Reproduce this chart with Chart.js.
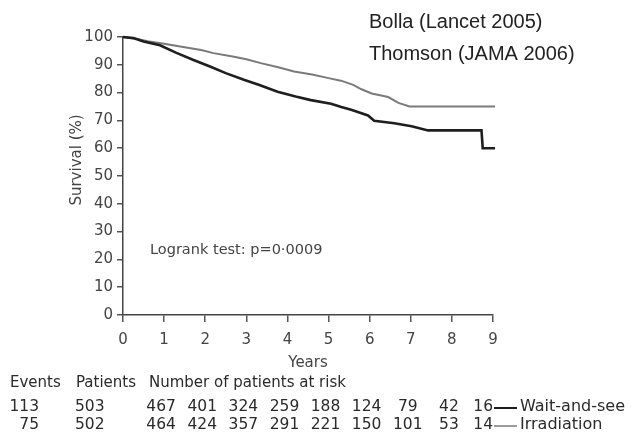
<!DOCTYPE html>
<html>
<head>
<meta charset="utf-8">
<script src="https://cdn.jsdelivr.net/npm/chart.js@4/dist/chart.umd.min.js"></script>
<style>
  html, body { margin: 0; padding: 0; background: #ffffff; }
  #wrap { width: 640px; height: 448px; position: relative; }
</style>
</head>
<body>
<div id="wrap"><canvas id="c" width="640" height="448"></canvas></div>
<script>
// ---- data ----
const waitYears = [0, 0.25, 0.5, 0.9, 1.3, 1.7, 2.13, 2.5, 2.94, 3.3, 3.76, 4.2, 4.57, 5.06, 5.31, 5.55, 5.96, 6.11, 6.6, 7.02, 7.42, 8.72, 8.75, 9.05];
const waitSurvival = [100, 99.6, 98.4, 97.0, 94.3, 91.8, 89.3, 87.0, 84.6, 82.8, 80.3, 78.6, 77.3, 76.0, 74.8, 73.8, 71.8, 69.9, 69.0, 67.9, 66.4, 66.4, 60.0, 60.0];
const irrYears = [0, 0.3, 0.6, 1.0, 1.5, 1.9, 2.2, 2.7, 3.0, 3.35, 3.8, 4.16, 4.6, 5.0, 5.3, 5.6, 5.8, 6.05, 6.45, 6.7, 6.97, 9.05];
const irrSurvival = [100, 99.5, 98.5, 97.6, 96.3, 95.3, 94.2, 92.9, 92.0, 90.6, 89.0, 87.6, 86.5, 85.2, 84.3, 82.8, 81.2, 79.7, 78.4, 76.3, 75.0, 75.0];
const xTickValues = [0, 1, 2, 3, 4, 5, 6, 7, 8, 9];
const yTickValues = [0, 10, 20, 30, 40, 50, 60, 70, 80, 90, 100];
const seriesNames = ["Wait-and-see", "Irradiation"];
const eventsCol = ["113", "75"];
const patientsCol = ["503", "502"];
const atRiskWait = ["467", "401", "324", "259", "188", "124", "79", "42", "16"];
const atRiskIrr = ["464", "424", "357", "291", "221", "150", "101", "53", "14"];
const tableHeader = ["Events", "Patients", "Number of patients at risk"];
const sourceLines = ["Bolla (Lancet 2005)", "Thomson (JAMA 2006)"];
const logrankText = "Logrank test: p=0·0009";
const yTitle = "Survival (%)";
const xTitle = "Years";

const FONT = "'DejaVu Sans', sans-serif";
const waitColor = "#1e1e1e";
const irrColor = "#7a7a7a";

function pts(xs, ys) { return xs.map((x, i) => ({ x: x, y: ys[i] })); }

const textPlugin = {
  id: 'texts',
  afterDraw(chart) {
    const ctx = chart.ctx;
    const xs = chart.scales.x;
    ctx.save();
    // source lines (top right)
    ctx.fillStyle = '#222';
    ctx.font = "20px 'Liberation Sans', Arial, sans-serif";
    ctx.textAlign = 'left';
    ctx.textBaseline = 'middle';
    ctx.fillText(sourceLines[0], 369, 22);
    ctx.fillText(sourceLines[1], 369, 54);

    // y title
    ctx.save();
    ctx.translate(77, 160);
    ctx.rotate(-Math.PI / 2);
    ctx.fillStyle = '#444';
    ctx.font = "15px " + FONT;
    ctx.textAlign = 'center';
    ctx.textBaseline = 'middle';
    ctx.fillText(yTitle, 0, 0);
    ctx.restore();

    // logrank
    ctx.fillStyle = '#444';
    ctx.font = "14.5px " + FONT;
    ctx.textAlign = 'left';
    ctx.fillText(logrankText, 150, 250);

    // table
    ctx.fillStyle = '#2a2a2a';
    ctx.font = "15px " + FONT;
    ctx.textAlign = 'left';
    ctx.fillText(tableHeader[0], 10, 383);
    ctx.fillText(tableHeader[1], 76, 383);
    ctx.fillText(tableHeader[2], 149, 383);

    const rowY = [407, 425];
    const risks = [atRiskWait, atRiskIrr];
    for (let r = 0; r < 2; r++) {
      ctx.fillStyle = '#2a2a2a';
      ctx.font = "15.5px " + FONT;
      ctx.textAlign = 'right';
      ctx.fillText(eventsCol[r], 39, rowY[r]);
      ctx.textAlign = 'left';
      ctx.fillText(patientsCol[r], 75, rowY[r]);
      for (let i = 0; i < risks[r].length; i++) {
        const px = xs.getPixelForValue(xTickValues[i + 1]);
        if (i === risks[r].length - 1) {
          ctx.textAlign = 'right';
          ctx.fillText(risks[r][i], px, rowY[r]);
        } else {
          ctx.textAlign = 'center';
          ctx.fillText(risks[r][i], px - 3, rowY[r]);
        }
      }
      const endX = xs.getPixelForValue(xTickValues[xTickValues.length - 1]);
      ctx.beginPath();
      ctx.strokeStyle = r === 0 ? waitColor : irrColor;
      ctx.lineWidth = r === 0 ? 2 : 1.5;
      ctx.moveTo(endX + 1, rowY[r] + 1);
      ctx.lineTo(endX + 24, rowY[r] + 1);
      ctx.stroke();
      ctx.textAlign = 'left';
      ctx.font = "16px " + FONT;
      ctx.fillText(seriesNames[r], endX + 27, rowY[r]);
    }
    ctx.restore();
  }
};

new Chart(document.getElementById('c'), {
  type: 'line',
  data: {
    datasets: [
      { label: seriesNames[0], data: pts(waitYears, waitSurvival), borderColor: waitColor, borderWidth: 2.6, pointRadius: 0, tension: 0, fill: false },
      { label: seriesNames[1], data: pts(irrYears, irrSurvival), borderColor: irrColor, borderWidth: 2, pointRadius: 0, tension: 0, fill: false }
    ]
  },
  options: {
    responsive: false,
    animation: false,
    clip: false,
    layout: { padding: { top: 37, right: 147, left: 0, bottom: 0 } },
    plugins: { legend: { display: false }, tooltip: { enabled: false } },
    scales: {
      x: {
        type: 'linear', min: 0, max: 9,
        afterFit(s) { s.height = 133; },
        afterBuildTicks(s) { s.ticks = xTickValues.map(v => ({ value: v })); },
        ticks: { color: '#444', font: { family: FONT, size: 15 }, padding: 9 },
        grid: { drawOnChartArea: false, drawTicks: true, tickLength: 7, color: '#555', lineWidth: 1.5 },
        border: { display: true, color: '#444', width: 1.5 },
        title: { display: true, text: xTitle, color: '#444', font: { family: FONT, size: 15 }, padding: { top: 0, bottom: 76 } }
      },
      y: {
        min: 0, max: 100,
        afterFit(s) { s.width = 123; },
        afterBuildTicks(s) { s.ticks = yTickValues.map(v => ({ value: v })); },
        ticks: { color: '#444', font: { family: FONT, size: 15 }, padding: 4 },
        grid: { drawOnChartArea: false, drawTicks: true, tickLength: 6, color: '#555', lineWidth: 1.5 },
        border: { display: true, color: '#444', width: 1.5 }
      }
    }
  },
  plugins: [textPlugin]
});
</script>
</body>
</html>
